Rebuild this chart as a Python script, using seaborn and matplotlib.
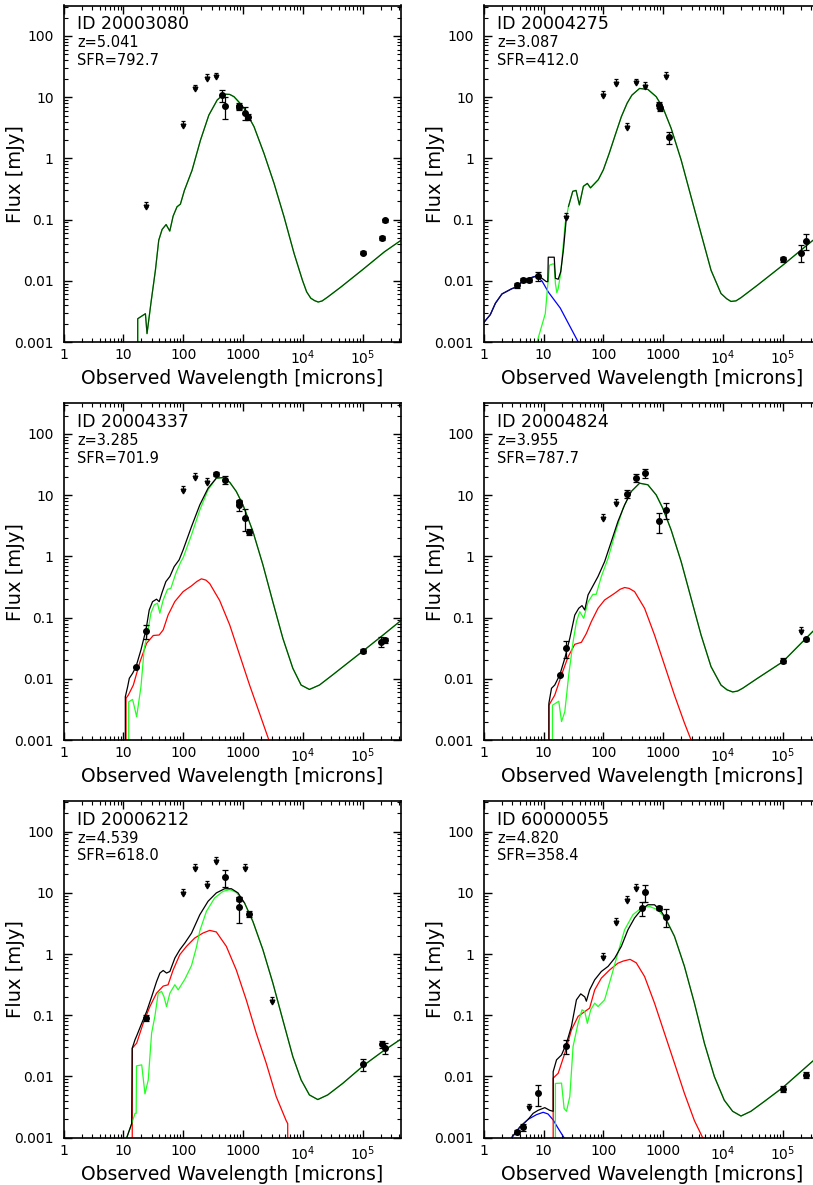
import numpy as np
import matplotlib
matplotlib.use("Agg")
import matplotlib.pyplot as plt
import seaborn as sns
from matplotlib.ticker import FixedLocator, LogLocator, FuncFormatter, NullFormatter

# ---- source labels ----
ids = ["20003080", "20004275", "20004337", "20004824", "20006212", "60000055"]
redshifts = ["5.041", "3.087", "3.285", "3.955", "4.539", "4.820"]
sfrs = ["792.7", "412.0", "701.9", "787.7", "618.0", "358.4"]

# ---- panel 1: 20003080 ----
p1_cold_wl = [17.4, 17.4, 23.4, 24.9, 29.1, 34.4, 39.1, 44.5, 51.9, 59.8, 68, 79, 90, 105, 141, 195,
              269, 371, 433, 512, 600, 707, 850, 1040, 1530, 2250, 3310, 4860, 7160, 9870, 11600,
              13600, 15700, 18070, 21000, 25900, 43300, 1e5, 2.31e5, 4.4e5]
p1_cold_f = [1e-4, 0.0024, 0.0029, 0.00137, 0.0045, 0.0149, 0.046, 0.069, 0.083, 0.065, 0.114, 0.162,
             0.179, 0.30, 0.64, 1.99, 5.1, 9.0, 10.3, 11.2, 11.1, 10.2, 8.4, 6.6, 3.3, 1.2, 0.39, 0.111,
             0.0279, 0.0102, 0.0066, 0.0052, 0.00475, 0.0045, 0.00468, 0.0054, 0.0079, 0.0152, 0.0297,
             0.046]
p1_lim_wl = [24, 100, 160, 250, 350]
p1_lim_f = [0.16, 3.4, 13.4, 19.8, 21]
p1_det_wl = [450, 500, 850, 870, 1100, 1200, 1e5, 2.14e5, 2.4e5]
p1_det_f = [10.8, 7.2, 7.2, 6.8, 5.6, 4.8, 0.029, 0.05, 0.098]
p1_det_e = [2.5, 2.8, 0.7, 0.6, 1.4, 0.5, 0.002, 0.004, 0.005]

# ---- panel 2: 20004275 ----
p2_star_wl = [1, 1.29, 1.57, 2.02, 2.93, 3.6, 4.3, 5.3, 6.3, 7.7, 9.5, 12.1, 19, 38, 50]
p2_star_f = [0.00207, 0.0028, 0.0043, 0.0061, 0.0074, 0.008, 0.0095, 0.0106, 0.0113, 0.012, 0.0098,
             0.0065, 0.0036, 0.001, 0.0006]
p2_cold_wl = [7.0, 10.7, 11.7, 12.6, 14.6, 15.1, 15.8, 16.7, 17.6, 19.4, 23, 26.1, 30.8, 35, 39.8, 46.4,
              54, 61, 82.5, 100, 125, 160, 200, 250, 300, 403, 555, 765, 1000, 1360, 2000, 2930, 4300,
              6310, 9260, 11500, 13600, 16500, 20000, 37800, 1e5, 3.2e5]
p2_cold_f = [0.0007, 0.0029, 0.008, 0.018, 0.019, 0.018, 0.009, 0.0064, 0.0075, 0.0133, 0.087, 0.163,
             0.29, 0.30, 0.174, 0.35, 0.39, 0.33, 0.45, 0.65, 1.2, 2.5, 4.8, 8.0, 10.8, 13.9, 13.4,
             10.2, 6.6, 3.1, 0.94, 0.235, 0.059, 0.0149, 0.0062, 0.0051, 0.0046, 0.0047, 0.0053, 0.0085,
             0.018, 0.046]
p2_tot_wl = [7.7, 9.4, 11.1, 11.8, 12.0, 15.1, 15.8, 17.6, 19.4, 21.5, 23.9]
p2_tot_f = [0.012, 0.011, 0.0097, 0.0097, 0.0243, 0.0243, 0.011, 0.0106, 0.0141, 0.032, 0.099]
p2_lim_wl = [24, 100, 160, 250, 350, 500, 1100]
p2_lim_f = [0.105, 10.6, 16.4, 3.1, 16.8, 14.8, 21.6]
p2_det_wl = [3.6, 4.5, 5.8, 8.0, 850, 870, 1250, 1e5, 2e5, 2.4e5]
p2_det_f = [0.0085, 0.0105, 0.0102, 0.0119, 7.4, 6.6, 2.2, 0.0225, 0.029, 0.045]
p2_det_e = [0.0008, 0.0008, 0.0008, 0.002, 0.8, 0.6, 0.5, 0.002, 0.009, 0.013]

# ---- panel 3: 20004337 ----
p3_warm_wl = [11.1, 11.1, 12.1, 14.7, 19, 24.5, 31.6, 39.8, 46.4, 56, 72.6, 100, 138, 170, 202, 240,
              278, 408, 600, 880, 1290, 1900, 2710, 3600]
p3_warm_f = [1e-4, 0.0048, 0.0054, 0.0079, 0.019, 0.038, 0.051, 0.052, 0.063, 0.11, 0.183, 0.266, 0.33,
             0.39, 0.43, 0.41, 0.36, 0.19, 0.076, 0.0245, 0.0079, 0.0027, 0.001, 0.00044]
p3_cold_wl = [12.3, 12.3, 14.3, 16.7, 19.7, 22.4, 25.4, 28.9, 32.9, 37.3, 40.8, 46.4, 54.8, 62.3, 75.5,
              91.5, 100, 138, 190, 261, 359, 464, 600, 774, 1000, 1468, 2154, 3162, 4640, 6810, 9380,
              12900, 18970, 31600, 60000, 1.07e5, 2.15e5, 4.4e5]
p3_cold_f = [1e-4, 0.0042, 0.0046, 0.0024, 0.0074, 0.0316, 0.055, 0.118, 0.161, 0.172, 0.118, 0.194,
             0.29, 0.30, 0.53, 0.82, 0.95, 2.25, 5.75, 12.2, 19, 19.4, 16.3, 11.5, 6.95, 2.55, 0.73,
             0.18, 0.046, 0.0149, 0.0079, 0.0067, 0.0079, 0.0116, 0.019, 0.0296, 0.051, 0.09]
p3_tot_wl = [10.8, 10.8, 11.8, 12.6, 14.3, 16.3, 19.7, 23.9, 27.1, 30.8, 35.9, 39.8, 44, 51.4, 60, 70.8,
             85.8, 100, 138, 190, 261, 359]
p3_tot_f = [1e-4, 0.0051, 0.0074, 0.0102, 0.0123, 0.0158, 0.0296, 0.063, 0.133, 0.182, 0.2, 0.182, 0.25,
            0.387, 0.47, 0.68, 0.88, 1.28, 3.07, 6.95, 13, 19]
p3_lim_wl = [100, 160, 250]
p3_lim_f = [11.8, 19, 15.7]
p3_det_wl = [16, 24, 350, 500, 850, 870, 1100, 1250, 1e5, 2e5, 2.4e5]
p3_det_f = [0.0158, 0.06, 22.3, 17.8, 6.8, 7.7, 4.3, 2.55, 0.0285, 0.0405, 0.043]
p3_det_e = [0, 0.016, 2.0, 2.5, 1.3, 0.5, 1.7, 0.3, 0.002, 0.008, 0.004]

# ---- panel 4: 20004824 ----
p4_warm_wl = [12.3, 12.3, 15.4, 20, 25.8, 33.3, 43, 52, 63, 81.5, 105, 155, 190, 227, 270, 333, 489, 717,
              1052, 1545, 2267, 2930, 3780]
p4_warm_f = [1e-4, 0.0037, 0.0054, 0.0116, 0.023, 0.0366, 0.0395, 0.055, 0.086, 0.142, 0.194, 0.25, 0.29,
             0.31, 0.30, 0.266, 0.142, 0.052, 0.0168, 0.0054, 0.0019, 0.001, 0.0005]
p4_cold_wl = [14.1, 14.1, 18, 20, 22.7, 26.4, 31.2, 35.5, 40.3, 47, 55.5, 67, 76, 92.6, 120, 155, 213, 293,
              403, 555, 765, 987, 1360, 2000, 2930, 4300, 6310, 9260, 11700, 14500, 17500, 21300, 37800,
              1e5, 3.2e5]
p4_cold_f = [1e-4, 0.0037, 0.0043, 0.002, 0.0029, 0.0116, 0.04, 0.086, 0.125, 0.0975, 0.18, 0.24, 0.24,
             0.47, 0.93, 2.25, 6.1, 11.5, 15.7, 14.8, 10.1, 6.1, 2.7, 0.82, 0.207, 0.052, 0.0158, 0.0079,
             0.0066, 0.0061, 0.0063, 0.007, 0.0102, 0.019, 0.06]
p4_tot_wl = [12.3, 12.3, 13.6, 15.4, 18.7, 22.7, 27.5, 33.3, 38.8, 44, 48.9, 55.5, 67, 81.5, 105, 136, 175,
             227, 293]
p4_tot_f = [1e-4, 0.004, 0.007, 0.0079, 0.0116, 0.0216, 0.046, 0.11, 0.142, 0.157, 0.133, 0.235, 0.33,
            0.47, 0.82, 1.75, 3.7, 6.95, 11.5]
p4_lim_wl = [100, 160, 2e5]
p4_lim_f = [4.1, 7.1, 0.059]
p4_det_wl = [18.7, 24, 250, 350, 500, 850, 1100, 1e5, 2.4e5]
p4_det_f = [0.0116, 0.0315, 10.5, 19.4, 22.9, 3.8, 5.75, 0.0198, 0.044]
p4_det_e = [0, 0.01, 1.6, 3.0, 3.6, 1.4, 1.7, 0.002, 0.003]

# ---- panel 5: 20006212 ----
p5_warm_wl = [14.1, 14.1, 16.7, 21.5, 27.8, 35.9, 46.4, 56, 68, 88, 114, 156, 215, 278, 359, 527, 774,
              1135, 1668, 2448, 3594, 5275, 5600, 5600]
p5_warm_f = [1e-4, 0.029, 0.035, 0.074, 0.139, 0.23, 0.30, 0.315, 0.55, 0.98, 1.34, 1.83, 2.21, 2.44,
             2.3, 1.34, 0.55, 0.179, 0.051, 0.0165, 0.0047, 0.0019, 0.0017, 1e-4]
p5_cold_wl = [10.8, 11.4, 13.8, 15.7, 16.4, 16.6, 20.3, 23, 26.1, 29.7, 33.7, 38.3, 43.6, 47.6, 52.8, 60,
              72.7, 82.6, 107, 138, 167, 190, 245, 337, 464, 600, 774, 1066, 1468, 2154, 3162, 4640,
              6810, 9380, 12900, 17800, 26100, 46400, 1.07e5, 2.15e5, 4.4e5]
p5_cold_f = [0.0007, 0.001, 0.0017, 0.0025, 0.0025, 0.0149, 0.0155, 0.0052, 0.0088, 0.051, 0.096, 0.23,
             0.245, 0.204, 0.139, 0.23, 0.316, 0.26, 0.39, 0.65, 1.3, 2.4, 5.0, 8.3, 10.6, 11.3, 10.2,
             6.8, 3.4, 1.18, 0.336, 0.084, 0.0212, 0.0088, 0.005, 0.0042, 0.005, 0.0077, 0.0155,
             0.0256, 0.041]
p5_tot_wl = [10.8, 11.4, 13.8, 14.1, 15.7, 16.7, 20.3, 24.5, 29.7, 36, 40.9, 46.4, 52.8, 60, 72.7, 88,
             107, 138, 190, 261, 359, 494, 640, 826, 1066]
p5_tot_f = [0.0007, 0.001, 0.0017, 0.029, 0.04, 0.046, 0.074, 0.115, 0.2, 0.357, 0.49, 0.54, 0.49, 0.52,
            0.86, 1.18, 1.52, 2.2, 4.4, 7.3, 10, 11.7, 11.7, 10.0, 6.8]
p5_lim_wl = [100, 160, 250, 350, 1100, 3000]
p5_lim_f = [9.7, 25, 12.8, 31.7, 25, 0.168]
p5_det_wl = [24, 500, 850, 870, 1250, 1e5, 2.14e5, 2.4e5]
p5_det_f = [0.09, 18.2, 5.9, 7.9, 4.6, 0.016, 0.0337, 0.029]
p5_det_e = [0.01, 5.8, 2.7, 0.6, 0.5, 0.0035, 0.004, 0.006]

# ---- panel 6: 60000055 ----
p6_star_wl = [2.5, 2.93, 4.03, 5.55, 7.64, 9.87, 11.9, 14.5, 17.5, 22, 27]
p6_star_f = [0.0007, 0.001, 0.0015, 0.002, 0.00238, 0.0026, 0.00244, 0.00195, 0.00143, 0.001, 0.0006]
p6_warm_wl = [14.5, 14.5, 17.6, 22.7, 29.3, 37.8, 48.9, 59, 71.7, 92.6, 127, 175, 215, 280, 355, 489,
              717, 1052, 1545, 2267, 3330, 4580, 5550]
p6_warm_f = [1e-4, 0.0094, 0.0113, 0.024, 0.058, 0.096, 0.115, 0.131, 0.26, 0.405, 0.55, 0.71, 0.77,
             0.82, 0.72, 0.43, 0.158, 0.051, 0.0165, 0.0053, 0.0019, 0.001, 0.0006]
p6_cold_wl = [15.8, 15.8, 20, 22.1, 24.2, 27.5, 31.2, 37.8, 44, 48.9, 54, 61.5, 71.7, 81.5, 105, 136,
              175, 227, 312, 430, 592, 815, 1122, 1545, 2267, 3330, 4890, 7170, 10500, 14500, 20000,
              29300, 48900, 1e5, 3.2e5]
p6_cold_f = [1e-4, 0.0077, 0.0078, 0.003, 0.0027, 0.0047, 0.031, 0.074, 0.123, 0.115, 0.074, 0.123,
             0.158, 0.139, 0.179, 0.43, 1.04, 2.5, 4.4, 5.67, 6.0, 5.3, 3.65, 1.95, 0.63, 0.158, 0.035,
             0.01, 0.0041, 0.0027, 0.00226, 0.0027, 0.0039, 0.0066, 0.018]
p6_tot_wl = [5.55, 6.7, 8.1, 10.5, 12.7, 14.5, 14.5, 16.5, 20, 24.2, 29.3, 35.5, 41.9, 48.9, 52, 59, 71.7,
             92.6, 120, 155, 200, 258, 333, 430, 555, 717, 927, 1122]
p6_tot_f = [0.002, 0.0025, 0.0028, 0.0031, 0.0028, 0.0027, 0.012, 0.0187, 0.0225, 0.035, 0.066, 0.179,
            0.224, 0.2, 0.17, 0.26, 0.38, 0.52, 0.63, 0.86, 1.34, 2.5, 3.9, 5.3, 6.4, 6.4, 5.0, 3.7]
p6_lim_wl = [5.8, 100, 160, 250, 350]
p6_lim_f = [0.003, 0.86, 3.2, 7.5, 11.7]
p6_det_wl = [3.6, 4.5, 8.0, 24, 450, 500, 850, 1100, 1e5, 2.4e5]
p6_det_f = [0.00125, 0.0015, 0.0053, 0.031, 5.7, 10.4, 5.7, 4.1, 0.0062, 0.0106]
p6_det_e = [0.0001, 0.0002, 0.002, 0.008, 1.5, 3.2, 0.5, 1.3, 0.0007, 0.0012]

panels = [
    dict(cold=(p1_cold_wl, p1_cold_f), lim=(p1_lim_wl, p1_lim_f), det=(p1_det_wl, p1_det_f, p1_det_e)),
    dict(star=(p2_star_wl, p2_star_f), cold=(p2_cold_wl, p2_cold_f), tot=(p2_tot_wl, p2_tot_f),
         lim=(p2_lim_wl, p2_lim_f), det=(p2_det_wl, p2_det_f, p2_det_e)),
    dict(warm=(p3_warm_wl, p3_warm_f), cold=(p3_cold_wl, p3_cold_f), tot=(p3_tot_wl, p3_tot_f),
         lim=(p3_lim_wl, p3_lim_f), det=(p3_det_wl, p3_det_f, p3_det_e)),
    dict(warm=(p4_warm_wl, p4_warm_f), cold=(p4_cold_wl, p4_cold_f), tot=(p4_tot_wl, p4_tot_f),
         lim=(p4_lim_wl, p4_lim_f), det=(p4_det_wl, p4_det_f, p4_det_e)),
    dict(warm=(p5_warm_wl, p5_warm_f), cold=(p5_cold_wl, p5_cold_f), tot=(p5_tot_wl, p5_tot_f),
         lim=(p5_lim_wl, p5_lim_f), det=(p5_det_wl, p5_det_f, p5_det_e)),
    dict(star=(p6_star_wl, p6_star_f), warm=(p6_warm_wl, p6_warm_f), cold=(p6_cold_wl, p6_cold_f),
         tot=(p6_tot_wl, p6_tot_f), lim=(p6_lim_wl, p6_lim_f), det=(p6_det_wl, p6_det_f, p6_det_e)),
]

LW = 0.9


def line(ax, wl, fl, color):
    sns.lineplot(x=np.asarray(wl, float), y=np.asarray(fl, float), ax=ax, color=color,
                 linewidth=LW, sort=False, estimator=None)


def xfmt(v, pos):
    if v >= 1e4:
        return r"$10^{%d}$" % round(np.log10(v))
    return "%g" % v


def draw_panel(ax, p, i):
    ax.set_xscale("log")
    ax.set_yscale("log")

    tot = p.get("tot")
    if "star" in p:
        wl, fl = p["star"]
        line(ax, wl, fl, "#0000ff")
    if "warm" in p:
        wl, fl = p["warm"]
        line(ax, wl, fl, "#ff0000")
    wl, fl = p["cold"]
    line(ax, wl, fl, "#22ff22")
    if tot is not None:
        line(ax, tot[0], tot[1], "black")

    # where a component lies under the total curve it looks darker
    wl = np.asarray(p["cold"][0]); fl = np.asarray(p["cold"][1])
    start = tot[0][-1] if tot is not None else 0
    m = wl >= start
    line(ax, wl[m], fl[m], "#0b450b")
    if "star" in p and tot is not None:
        wl = np.asarray(p["star"][0]); fl = np.asarray(p["star"][1])
        m = wl <= tot[0][0]
        line(ax, wl[m], fl[m], "#0c0c55")

    # upper limits (small down arrows) and detections
    lw_, lf_ = p["lim"]
    lf_ = np.asarray(lf_)
    ax.errorbar(lw_, lf_, yerr=[np.zeros_like(lf_), 0.2 * lf_], fmt="v", ms=3.4, color="black",
                ecolor="black", elinewidth=0.9, capsize=1.5, capthick=0.9, zorder=5)
    dw, df, de = p["det"]
    ax.errorbar(dw, df, yerr=de, fmt="o", ms=4.0, color="black", ecolor="black",
                elinewidth=0.9, capsize=2.3, capthick=0.9, zorder=6)

    ax.set_xlim(1, 4.3e5)
    ax.set_ylim(1e-3, 315)
    ax.xaxis.set_major_locator(FixedLocator([1, 10, 100, 1e3, 1e4, 1e5]))
    ax.xaxis.set_major_formatter(FuncFormatter(xfmt))
    ax.yaxis.set_major_locator(FixedLocator([1e-3, 1e-2, 1e-1, 1, 10, 100]))
    ax.yaxis.set_major_formatter(FuncFormatter(lambda v, pos: "%g" % v))
    for axis in (ax.xaxis, ax.yaxis):
        axis.set_minor_locator(LogLocator(base=10, subs=np.arange(2, 10), numticks=60))
        axis.set_minor_formatter(NullFormatter())
    ax.tick_params(which="both", direction="in", top=True, right=True, colors="black")
    ax.tick_params(which="major", length=5.5, width=1.0, labelsize=10)
    ax.tick_params(axis="y", which="major", pad=7)
    ax.tick_params(axis="x", which="major", pad=4.5)
    ax.tick_params(which="minor", length=2.8, width=0.8)
    for s in ax.spines.values():
        s.set_linewidth(1.2)
        s.set_color("black")

    ax.set_xlabel("Observed Wavelength [microns]", fontsize=13.5, color="black")
    ax.set_ylabel("Flux [mJy]", fontsize=14, color="black")
    ax.xaxis.set_label_coords(0.5, -0.08)
    ax.yaxis.set_label_coords(-0.115, 0.5)

    ax.text(0.04, 0.945, "ID " + ids[i], transform=ax.transAxes, fontsize=12.5, va="center", ha="left")
    ax.text(0.04, 0.889, "z=" + redshifts[i], transform=ax.transAxes, fontsize=10.5, va="center", ha="left")
    ax.text(0.04, 0.838, "SFR=" + sfrs[i], transform=ax.transAxes, fontsize=10.5, va="center", ha="left")


def main():
    sns.set_style("ticks")
    plt.rcParams["font.family"] = ["DejaVu Sans"]
    plt.rcParams["axes.edgecolor"] = "black"
    plt.rcParams["text.color"] = "black"
    plt.rcParams["axes.labelcolor"] = "black"

    fig = plt.figure(figsize=(8.13, 11.85), dpi=100)
    W, H = 337 / 813, 336.5 / 1185
    lefts = [63.5 / 813, 483.7 / 813]
    bottoms = [1 - 342 / 1185, 1 - 740 / 1185, 1 - 1137.7 / 1185]
    for i, p in enumerate(panels):
        ax = fig.add_axes([lefts[i % 2], bottoms[i // 2], W, H])
        draw_panel(ax, p, i)

    fig.savefig("out.png", dpi=100)
    plt.close(fig)


if __name__ == "__main__":
    main()
